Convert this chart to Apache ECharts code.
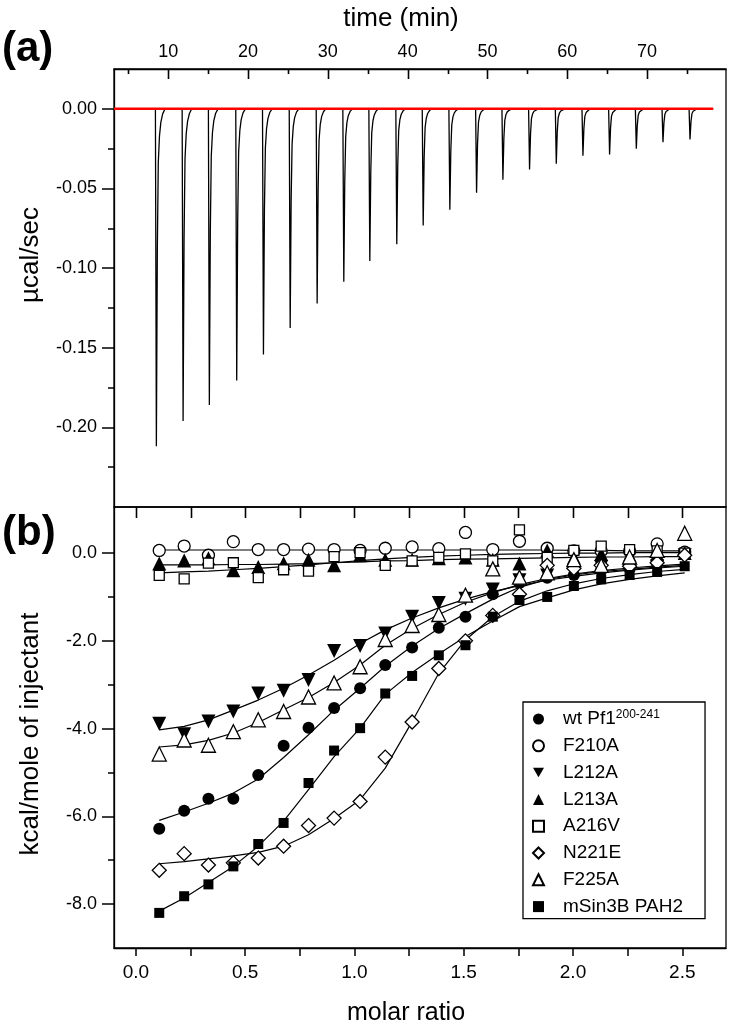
<!DOCTYPE html>
<html>
<head>
<meta charset="utf-8">
<script src="https://cdn.jsdelivr.net/npm/echarts@6/dist/echarts.min.js"></script>
<style>
html,body{margin:0;padding:0;background:#fff;}
#chart{width:734px;height:1028px;}
</style>
</head>
<body>
<div id="chart"></div>
<script>
// ---------- Panel (a): raw ITC trace ----------
const timeLabels = [10, 20, 30, 40, 50, 60, 70];
const timeMinorTicks = [5, 15, 25, 35, 45, 55, 65, 75];
const powerLabels = [-0.20, -0.15, -0.10, -0.05, 0.00];
const powerMinorTicks = [-0.225, -0.175, -0.125, -0.075, -0.025];
const injectionTimes = [8.45, 11.80, 15.09, 18.52, 21.87, 25.22, 28.60, 31.94, 35.20, 38.58, 41.89,
  45.23, 48.58, 51.88, 55.22, 58.57, 61.91, 65.25, 68.60, 71.94, 75.33];
const peakHeights = [-0.2119, -0.1960, -0.1860, -0.1705, -0.1543, -0.1376, -0.1223, -0.1085, -0.0956, -0.0851, -0.0732,
  -0.0634, -0.0527, -0.0445, -0.0381, -0.0345, -0.0295, -0.0287, -0.0251, -0.0210, -0.0193];
// shape of one injection peak (minutes after injection, fraction of peak depth)
const peakProfileOffsets = [-0.06, 0.06, 0.18, 0.30, 0.45, 0.62, 0.85, 1.15];
const peakProfileFractions = [0, 1, 0.42, 0.16, 0.08, 0.04, 0.015, 0];
const traceStart = 3.2;
const traceEnd = 78.3;

// ---------- Panel (b): integrated heats ----------
const molarRatio = [0.107, 0.221, 0.332, 0.446, 0.560, 0.676, 0.790, 0.907, 1.026, 1.141, 1.264,
  1.386, 1.508, 1.633, 1.755, 1.882, 2.004, 2.129, 2.259, 2.385, 2.511];
const molarTicks = [0, 0.25, 0.5, 0.75, 1.0, 1.25, 1.5, 1.75, 2.0, 2.25, 2.5];
const molarLabels = [0, 0.5, 1.0, 1.5, 2.0, 2.5];
const heatLabels = [-8, -6, -4, -2, 0];
const heatMinorTicks = [-7, -5, -3, -1];

const wt = [-6.28, -5.87, -5.60, -5.60, -5.06, -4.39, -3.98, -3.53, -3.08, -2.55, -2.15,
  -1.70, -1.45, -0.94, -0.68, -0.56, -0.50, -0.40, -0.36, -0.25, -0.03];
const wtFit = [-6.09, -5.90, -5.70, -5.47, -5.15, -4.66, -4.14, -3.58, -3.08, -2.58, -2.12,
  -1.72, -1.38, -1.05, -0.78, -0.60, -0.50, -0.42, -0.37, -0.32, -0.28];
const f210a = [0.06, 0.16, -0.05, 0.26, 0.08, 0.08, 0.09, 0.08, 0.06, 0.11, 0.14,
  0.10, 0.47, 0.08, 0.27, 0.11, 0.05, 0.05, 0.05, 0.21, 0.02];
const f210aFit = [0.07, 0.07, 0.07, 0.07, 0.07, 0.07, 0.07, 0.07, 0.07, 0.07, 0.07,
  0.07, 0.07, 0.07, 0.07, 0.07, 0.06, 0.06, 0.05, 0.05, 0.05];
const l212a = [-3.89, -4.13, -3.84, -3.61, -3.20, -3.14, -2.89, -2.23, -2.12, -1.83, -1.45,
  -1.14, -1.04, -0.83, -0.62, -0.51, -0.46, -0.32, -0.39, -0.30, -0.05];
const l212aFit = [-4.03, -3.95, -3.80, -3.58, -3.35, -3.08, -2.78, -2.44, -2.06, -1.75, -1.48,
  -1.25, -1.05, -0.88, -0.74, -0.62, -0.53, -0.45, -0.39, -0.34, -0.30];
const l213a = [-0.24, -0.17, -0.12, -0.39, -0.32, -0.23, -0.15, -0.28, -0.05, -0.15, -0.15,
  -0.12, -0.10, -0.15, -0.24, 0.06, -0.10, -0.02, -0.05, -0.02, 0.00];
const l213aFit = [-0.27, -0.27, -0.27, -0.26, -0.26, -0.25, -0.24, -0.22, -0.20, -0.18, -0.17,
  -0.15, -0.14, -0.13, -0.12, -0.11, -0.10, -0.09, -0.09, -0.08, -0.08];
const a216v = [-0.51, -0.59, -0.23, -0.22, -0.56, -0.38, -0.41, -0.08, 0.01, -0.28, -0.18,
  -0.10, -0.02, -0.18, 0.53, -0.10, 0.06, 0.16, 0.08, 0.05, 0.00];
const a216vFit = [-0.45, -0.43, -0.41, -0.38, -0.35, -0.31, -0.27, -0.22, -0.17, -0.13, -0.10,
  -0.07, -0.05, -0.03, -0.02, -0.01, 0.00, 0.00, 0.01, 0.01, 0.01];
const n221e = [-7.23, -6.85, -7.11, -7.06, -6.95, -6.68, -6.21, -6.04, -5.66, -4.65, -3.85,
  -2.63, -2.00, -1.42, -0.94, -0.28, -0.35, -0.28, -0.30, -0.22, -0.05];
const n221eFit = [-7.08, -7.03, -6.97, -6.90, -6.82, -6.68, -6.42, -6.05, -5.62, -4.90, -3.84,
  -2.74, -1.98, -1.45, -1.10, -0.86, -0.70, -0.58, -0.49, -0.42, -0.37];
const f225a = [-4.58, -4.26, -4.38, -4.07, -3.80, -3.61, -3.28, -2.96, -2.59, -1.97, -1.65,
  -1.40, -0.96, -0.36, -0.55, -0.45, -0.15, -0.28, -0.09, 0.06, 0.45];
const f225aFit = [-4.42, -4.37, -4.27, -4.10, -3.86, -3.57, -3.29, -2.95, -2.55, -2.10, -1.72,
  -1.40, -1.12, -0.90, -0.72, -0.58, -0.48, -0.40, -0.34, -0.29, -0.25];
const msin3b = [-8.20, -7.82, -7.55, -7.14, -6.63, -6.15, -5.24, -4.50, -3.99, -3.20, -2.80,
  -2.33, -2.10, -1.45, -1.07, -1.00, -0.75, -0.60, -0.50, -0.43, -0.30];
const msin3bFit = [-8.16, -7.86, -7.51, -7.14, -6.68, -6.11, -5.39, -4.64, -3.99, -3.22, -2.72,
  -2.30, -1.90, -1.55, -1.22, -1.02, -0.84, -0.70, -0.60, -0.52, -0.45];

const seriesNames = ['wt Pf1', 'F210A', 'L212A', 'L213A', 'A216V', 'N221E', 'F225A', 'mSin3B PAH2'];
const seriesData = [wt, f210a, l212a, l213a, a216v, n221e, f225a, msin3b];
const seriesFits = [wtFit, f210aFit, l212aFit, l213aFit, a216vFit, n221eFit, f225aFit, msin3bFit];
// marker styles
const DOWN_TRIANGLE = 'path://M0,0L12,0L6,10.4Z';
const markerSymbols = ['circle', 'circle', 'triangle', 'triangle', 'rect', 'diamond', 'triangle', 'rect'];
const legendIcons = ['circle', 'circle', DOWN_TRIANGLE, 'triangle', 'rect', 'diamond', 'triangle', 'rect'];
const markerRotate = [0, 0, 180, 0, 0, 0, 0, 0];
const markerFilled = [true, false, true, true, false, false, false, true];
const markerSizes = [12, 12, 14, 14, 10, 14, 14, 10];

// ---------- build ----------
const trace = [[traceStart, 0]];
injectionTimes.forEach((t, i) => {
  peakProfileOffsets.forEach((dt, j) => {
    trace.push([t + dt, peakHeights[i] * peakProfileFractions[j]]);
  });
});
trace.push([traceEnd, 0]);

const FONT = 'Liberation Sans, Arial, Helvetica, sans-serif';
const LW = 1.3;
const black = '#000';
const TMIN = traceStart, TMAX = 79.9;
const XMIN = -0.1, XMAX = 2.7;
const YA_MIN = -0.25, YA_MAX = 0.025;
const YB_MIN = -9, YB_MAX = 1.05;
const GRID_A = {left: 114, top: 69, width: 612, height: 438};
const GRID_B = {left: 114, top: 507, width: 612, height: 441};

const chart = echarts.init(document.getElementById('chart'), null, {renderer: 'canvas'});

const series = [
  {type: 'line', xAxisIndex: 0, yAxisIndex: 0, data: trace, showSymbol: false, symbol: 'none',
    lineStyle: {color: black, width: 1.3}, z: 2, animation: false},
  {type: 'line', xAxisIndex: 0, yAxisIndex: 0, data: [[traceStart, 0], [traceEnd, 0]], symbol: 'none',
    lineStyle: {color: '#ff0000', width: 2.5}, z: 3, animation: false}
];
seriesNames.forEach((name, i) => {
  series.push({
    type: 'line', name: name + ' fit', xAxisIndex: 1, yAxisIndex: 2,
    data: molarRatio.map((x, k) => [x, seriesFits[i][k]]),
    symbol: 'none', lineStyle: {color: black, width: 1.2}, z: 2, animation: false, silent: true
  });
});
seriesNames.forEach((name, i) => {
  series.push({
    type: 'scatter', name: name, xAxisIndex: 1, yAxisIndex: 2,
    data: molarRatio.map((x, k) => [x, seriesData[i][k]]),
    symbol: markerSymbols[i], symbolRotate: markerRotate[i], symbolSize: markerSizes[i],
    itemStyle: {color: markerFilled[i] ? black : '#fff', borderColor: black, borderWidth: markerFilled[i] ? 0 : 1.3, opacity: 1},
    z: 5, animation: false
  });
});

function lineOn() { return {show: true, onZero: false, lineStyle: {color: black, width: LW}}; }
function tickStyle() { return {color: black, width: 1.5}; }
function tickOnlyYAxis(gridIndex, min, max, values, length) {
  return {type: 'value', gridIndex, position: 'left', min, max,
    axisLine: {show: false, onZero: false}, splitLine: {show: false}, axisLabel: {show: false},
    axisTick: {show: true, inside: false, length, lineStyle: tickStyle(), customValues: values}};
}

const baseGraphic = [
  {type: 'text', left: 2, top: 28, style: {text: '(a)', font: 'bold 42px ' + FONT, fill: black}},
  {type: 'text', left: 2, top: 512, style: {text: '(b)', font: 'bold 42px ' + FONT, fill: black}},
  {type: 'text', x: 401, y: 19, style: {text: 'time (min)', font: '26px ' + FONT, fill: black, textAlign: 'center', textVerticalAlign: 'middle'}},
  {type: 'text', x: 406, y: 1013, style: {text: 'molar ratio', font: '25px ' + FONT, fill: black, textAlign: 'center', textVerticalAlign: 'middle'}},
  {type: 'text', x: 31, y: 255, rotation: Math.PI / 2, style: {text: 'µcal/sec', font: '26px ' + FONT, fill: black, textAlign: 'center', textVerticalAlign: 'middle'}},
  {type: 'text', x: 31, y: 734, rotation: Math.PI / 2, style: {text: 'kcal/mole of injectant', font: '26px ' + FONT, fill: black, textAlign: 'center', textVerticalAlign: 'middle'}}
];

const option = {
  animation: false,
  backgroundColor: '#fff',
  textStyle: {fontFamily: FONT, color: black},
  grid: [
    Object.assign({show: true, borderColor: black, borderWidth: LW}, GRID_A),
    Object.assign({show: true, borderColor: black, borderWidth: LW}, GRID_B)
  ],
  xAxis: [
    {type: 'value', gridIndex: 0, position: 'top', min: TMIN, max: TMAX,
      axisLine: lineOn(), splitLine: {show: false}, axisTick: {show: false},
      axisLabel: {show: true, customValues: timeLabels, margin: 8, fontSize: 18, color: black, fontFamily: FONT}},
    {type: 'value', gridIndex: 1, position: 'bottom', min: XMIN, max: XMAX,
      axisLine: lineOn(), splitLine: {show: false},
      axisTick: {show: true, inside: false, length: 8, lineStyle: tickStyle(), customValues: molarTicks},
      axisLabel: {show: true, customValues: molarLabels, margin: 15, fontSize: 19, color: black, fontFamily: FONT,
        formatter: v => Number(v).toFixed(1)}}
  ],
  yAxis: [
    {type: 'value', gridIndex: 0, position: 'left', min: YA_MIN, max: YA_MAX,
      axisLine: lineOn(), splitLine: {show: false},
      axisTick: {show: true, inside: false, length: 12, lineStyle: tickStyle(), customValues: powerLabels},
      axisLabel: {show: true, customValues: powerLabels, margin: 17, fontSize: 18, color: black, fontFamily: FONT,
        formatter: v => Number(v).toFixed(2)}},
    tickOnlyYAxis(0, YA_MIN, YA_MAX, powerMinorTicks, 6),
    {type: 'value', gridIndex: 1, position: 'left', min: YB_MIN, max: YB_MAX,
      axisLine: lineOn(), splitLine: {show: false},
      axisTick: {show: true, inside: false, length: 12, lineStyle: tickStyle(), customValues: heatLabels},
      axisLabel: {show: true, customValues: heatLabels, margin: 17, fontSize: 18, color: black, fontFamily: FONT,
        formatter: v => Number(v).toFixed(1)}},
    tickOnlyYAxis(1, YB_MIN, YB_MAX, heatMinorTicks, 6)
  ],
  legend: {
    show: true, orient: 'vertical', left: 523, top: 702,
    data: seriesNames.map((n, i) => ({name: n, icon: legendIcons[i]})),
    padding: [7, 22, 2, 9], itemGap: 6.8, itemWidth: 11, itemHeight: 11,
    symbolKeepAspect: true,
    borderColor: black, borderWidth: LW, backgroundColor: '#fff',
    selectedMode: false,
    textStyle: {fontSize: 19, color: black, fontFamily: FONT, lineHeight: 20, padding: [0, 0, 0, 14],
      rich: {
        n: {fontSize: 19, fontFamily: FONT, color: black, lineHeight: 20},
        s: {fontSize: 12, fontFamily: FONT, color: black, lineHeight: 20, verticalAlign: 'top', padding: [0, 0, 8, 0]}
      }},
    formatter: name => name === 'wt Pf1' ? '{n|wt Pf1}{s|200-241}' : '{n|' + name + '}'
  },
  graphic: baseGraphic,
  series: series
};
chart.setOption(option);

// Inward ticks along the top frame of each panel: positions come from the axes' own scales.
function topTicks(xAxisIndex, yAxisIndex, yTopValue, values, length) {
  const out = [];
  const y0 = Math.round(chart.convertToPixel({yAxisIndex: yAxisIndex}, yTopValue));
  values.forEach(v => {
    const x = Math.round(chart.convertToPixel({xAxisIndex: xAxisIndex}, v)) + 0.5;
    out.push({type: 'line', silent: true, z: 100, zlevel: 1,
      shape: {x1: x, y1: y0, x2: x, y2: y0 + length},
      style: {stroke: '#000', lineWidth: 1.6}});
  });
  return out;
}
const tickGroup = {
  type: 'group', id: 'frameTicks', silent: true, z: 100, zlevel: 1,
  children: [].concat(
    topTicks(0, 0, YA_MAX, timeLabels, 10),
    topTicks(0, 0, YA_MAX, timeMinorTicks, 5),
    topTicks(1, 2, YB_MAX, molarTicks, 11)
  )
};
chart.setOption({graphic: baseGraphic.concat([tickGroup])});
</script>
</body>
</html>
